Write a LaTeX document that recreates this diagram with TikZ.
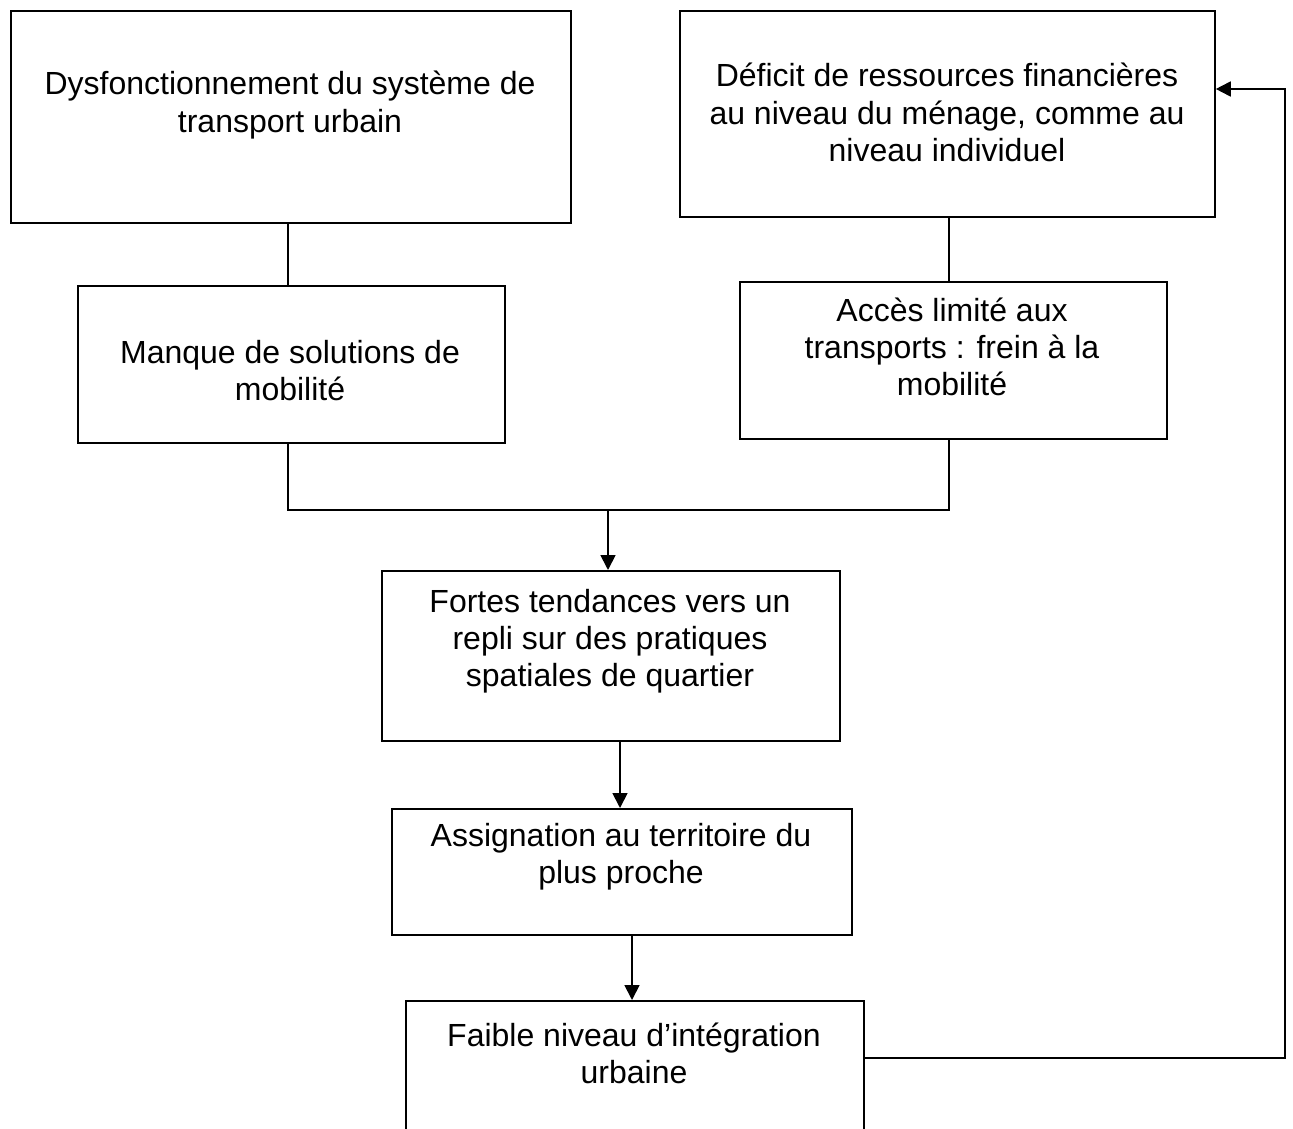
\documentclass[tikz,border=0pt]{standalone}
\usepackage{fontspec}
\setmainfont{Liberation Sans}
\usetikzlibrary{arrows.meta}
\begin{document}
\begin{tikzpicture}[x=1pt,y=-1pt,
  box/.style={draw,line width=1.8pt,inner sep=0pt,anchor=north west},
  txt/.style={align=center,inner sep=0pt,anchor=base,font=\fontsize{32}{37}\selectfont},
  conn/.style={line width=1.8pt},
  arr/.style={line width=1.8pt,-{Triangle[length=15pt,width=15pt]}}]
\useasboundingbox (0,0) rectangle (1293,1129);
\clip (0,0) rectangle (1293,1129);
\fill[white] (0,0) rectangle (1293,1129);
% boxes
\node[box,minimum width=560pt,minimum height=212pt] (A) at (10,10) {};
\node[box,minimum width=535pt,minimum height=206pt] (B) at (679,10) {};
\node[box,minimum width=427pt,minimum height=157pt] (C) at (77,285) {};
\node[box,minimum width=427pt,minimum height=157pt] (D) at (739,281) {};
\node[box,minimum width=458pt,minimum height=170pt] (E) at (381,570) {};
\node[box,minimum width=460pt,minimum height=126pt] (F) at (391,808) {};
\node[box,minimum width=458pt,minimum height=160pt] (G) at (405,1000) {};
% texts (anchor base = baseline of last line)
\node[txt] (tA) at (290,132) {Dysfonctionnement du système de\\transport urbain};
\node[txt] (tB) at (947,161) {Déficit de ressources financières\\au niveau du ménage, comme au\\niveau individuel};
\node[txt] (tC) at (290,400) {Manque de solutions de\\mobilité};
\node[txt] (tD) at (952,395) {Accès limité aux\\transports : frein à la\\mobilité};
\node[txt] (tE) at (610,686) {Fortes tendances vers un\\repli sur des pratiques\\spatiales de quartier};
\node[txt] (tF) at (621,883) {Assignation au territoire du\\plus proche};
\node[txt] (tG) at (634,1083) {Faible niveau d’intégration\\urbaine};
% connector coordinates
\coordinate (xl) at (288,0);
\coordinate (xr) at (949,0);
\coordinate (m) at (608,510);
\coordinate (xef) at (620,0);
\coordinate (xfg) at (632,0);
\coordinate (fb) at (1285,89);
\coordinate (fg) at (1285,1058);
% connectors
\draw[conn] (xl |- A.south) -- (xl |- C.north);
\draw[conn] (xr |- B.south) -- (xr |- D.north);
\draw[conn] (xl |- C.south) -- (xl |- m) -- (xr |- m) -- (xr |- D.south);
\draw[arr] (m) -- (m |- E.north);
\draw[arr] (xef |- E.south) -- (xef |- F.north);
\draw[arr] (xfg |- F.south) -- (xfg |- G.north);
\draw[arr] (G.east |- fg) -- (fg) -- (fb) -- (B.east |- fb);
\end{tikzpicture}
\end{document}
